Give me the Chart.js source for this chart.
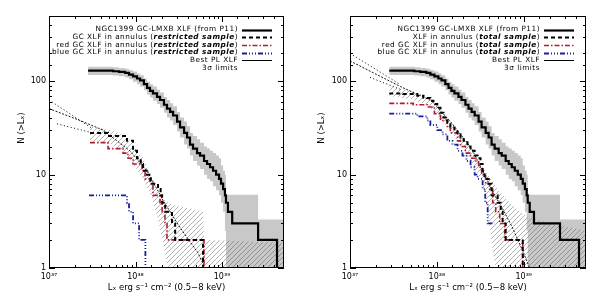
<!DOCTYPE html>
<html>
<head>
<meta charset="utf-8">
<script src="https://cdn.jsdelivr.net/npm/chart.js@4.4.1/dist/chart.umd.min.js"></script>
<style>
  html, body { margin: 0; padding: 0; background: #fff; }
  #wrap { display: flex; width: 600px; height: 300px; }
  canvas { display: block; }
</style>
</head>
<body>
<div id="wrap">
  <canvas id="left" width="300" height="300"></canvas>
  <canvas id="right" width="300" height="300"></canvas>
</div>
<script>
// axis ranges and tick labels
const xMin = 1e37, xMax = 5.2e39;
const yMin = 1, yMax = 500;
const xTickVals = [1e37, 1e38, 1e39];
const xTickText = ['10³⁷', '10³⁸', '10³⁹'];
const yTickVals = [1, 10, 100];
const yTickText = ['1', '10', '100'];

// NGC1399 GC-LMXB XLF (P11), same in both panels
const xlfL = [2.83e37, 5.5e37, 6.44e37, 7.57e37, 8.41e37, 9.36e37, 1.04e38, 1.13e38, 1.25e38, 1.36e38,
              1.47e38, 1.59e38, 1.77e38, 1.92e38, 2.13e38, 2.31e38, 2.51e38, 2.72e38, 3.02e38, 3.27e38,
              3.64e38, 3.94e38, 4.26e38, 4.62e38, 5.14e38, 5.57e38, 6.19e38, 6.71e38, 7.27e38, 7.87e38,
              8.53e38, 9.23e38, 9.73e38, 1.03e39, 1.08e39, 1.11e39, 1.17e39, 1.31e39, 2.61e39, 4.32e39, 5.2e39];
const xlfN = [130, 128, 126, 123, 118, 113, 107, 102, 93, 85,
              79, 74, 68, 63, 56, 51, 47, 43, 37, 32,
              28, 25, 21, 19, 17, 16, 14, 13, 12, 11,
              10, 9, 8, 7, 6, 5, 4, 3, 2, 1, 1];
const xlfBandHi = [143, 141, 139, 136, 131, 127, 121, 116, 107, 99,
                   93, 88, 81, 76, 68, 63, 58, 54, 47, 41,
                   37, 33, 28, 26, 24, 22, 20, 19, 18, 17,
                   16, 15, 12.5, 11, 10, 6.1, 6.1, 6.1, 3.3, 3.3, 3.3];
const xlfBandLo = [117, 115, 113, 110, 105, 99, 93, 88, 80, 72,
                   67, 62, 57, 52, 46, 41, 38, 34, 29, 25,
                   21, 19, 16, 14, 12.5, 11.5, 10, 9, 8.5, 7.5,
                   6.8, 6, 5, 4, 2.5, 0.5, 0.5, 0.5, 0.5, 0.5, 0.5];

// left panel: restricted sample
const annRestr = [[2.98e37, 28], [4.81e37, 26], [7.97e37, 23], [9.36e37, 18], [1.04e38, 15], [1.15e38, 13],
                  [1.22e38, 11], [1.36e38, 10], [1.5e38, 8], [1.82e38, 7], [1.95e38, 6], [2.03e38, 5],
                  [2.2e38, 4], [2.64e38, 3], [2.87e38, 2], [6.03e38, 1], [5.2e39, 1]];
const redRestr = [[2.98e37, 22], [4.81e37, 19], [7.17e37, 17], [8.18e37, 15], [9.36e37, 13], [1.19e38, 11],
                  [1.29e38, 9], [1.47e38, 8], [1.59e38, 6], [1.92e38, 5], [2.03e38, 4], [2.19e38, 3],
                  [2.31e38, 2], [6.19e38, 1]];
const blueRestr = [[2.9e37, 6], [7.97e37, 5], [8.41e37, 4], [9.36e37, 3], [1.1e38, 2], [1.3e38, 1]];
const bestRestr = [[1e37, 51], [2.28e37, 38], [4.21e37, 30], [8.6e37, 18], [1.36e38, 11], [2.08e38, 5.3],
                   [3.27e38, 2.7], [5.28e38, 1.45], [6.35e38, 1.0]];
const upExtRestr = [[1e37, 63], [3.2e37, 31]];
const loExtRestr = [[1.24e37, 35], [3.2e37, 28]];
const hatchLRestr = [2.98e37, 5e37, 7.2e37, 9.4e37, 1.22e38, 1.5e38, 1.8e38, 2.1e38, 2.4e38, 3e38, 4.5e38, 6.0e38, 6.2e38, 1.5e39, 5.2e39];
const hatchHiRestr = [33, 30, 27, 21, 15, 10, 6.5, 5.5, 5, 4.6, 4.3, 4.0, 2.0, 1.95, 1.85];
const hatchLoRestr = [23, 21.5, 18, 13, 9, 6, 3.5, 1.8, 0.9, 0.5, 0.5, 0.5, 0.5, 0.5, 0.5];

// right panel: total sample
const annTotal = [[2.83e37, 74], [4.1e37, 73], [5.95e37, 70], [7.0e37, 66], [8.41e37, 62], [9.12e37, 57],
                  [1.01e38, 52], [1.10e38, 46], [1.19e38, 41], [1.32e38, 36], [1.43e38, 32], [1.59e38, 29],
                  [1.73e38, 27], [1.87e38, 25], [2.03e38, 23], [2.25e38, 20], [2.44e38, 18], [2.72e38, 16],
                  [2.94e38, 15], [3.18e38, 13], [3.36e38, 11], [3.54e38, 9], [3.94e38, 8], [4.26e38, 6],
                  [5.0e38, 5], [5.42e38, 4], [5.71e38, 3], [6.19e38, 2], [9.73e38, 1], [5.2e39, 1]];
const redTotal = [[2.83e37, 58], [5.35e37, 56], [7.76e37, 53], [9.36e37, 45], [1.10e38, 38], [1.32e38, 32],
                  [1.43e38, 28], [1.73e38, 23], [1.87e38, 20], [2.13e38, 17], [2.44e38, 15], [2.79e38, 14],
                  [3.02e38, 12], [3.27e38, 10], [3.64e38, 8], [4.05e38, 7], [4.39e38, 5], [4.75e38, 4],
                  [5.28e38, 3], [6.03e38, 2], [9.73e38, 1]];
const blueTotal = [[2.83e37, 45], [5.95e37, 42], [7.76e37, 38], [8.41e37, 34], [1.01e38, 30], [1.16e38, 27],
                   [1.32e38, 23], [1.51e38, 21], [1.73e38, 18], [1.97e38, 16], [2.19e38, 14], [2.44e38, 12],
                   [2.72e38, 10], [2.94e38, 9], [3.36e38, 7], [3.6e38, 5], [3.84e38, 3], [4.62e38, 3]];
const bestTotal = [[1e37, 165], [3.78e37, 88], [8.6e37, 62], [1.47e38, 36], [2.51e38, 19], [3.84e38, 8.5],
                   [4.62e38, 6], [5.57e38, 4.5], [7.27e38, 2.8], [9.5e38, 1.6], [1.17e39, 1.0]];
const upExtTotal = [[1e37, 199], [3.8e37, 92]];
const loExtTotal = [[1.7e37, 110], [3.8e37, 82]];
const hatchLTotal = [2.83e37, 5e37, 8e37, 1.1e38, 1.5e38, 2e38, 2.6e38, 3.2e38, 3.6e38, 4e38, 4.4e38, 5e38, 6.5e38, 9e38, 1.1e39, 2e39, 5.2e39];
const hatchHiTotal = [88, 80, 68, 50, 35, 25, 18, 13, 11, 9.5, 8.5, 7, 5.3, 4, 3.5, 3, 2.5];
const hatchLoTotal = [70, 64, 55, 40, 28, 19, 13, 9, 6, 3, 1.5, 0.8, 0.5, 0.5, 0.5, 0.5, 0.5];

const STYLE = {
    xlf:  { color: '#000', width: 2.2, dash: [] },
    ann:  { color: '#000', width: 2, dash: [4, 3] },
    red:  { color: '#b01c30', width: 1.6, dash: [5, 2, 1.5, 2] },
    blue: { color: '#14209a', width: 1.8, dash: [5, 2, 1, 2, 1, 2, 1, 2] },
    best: { color: '#000', width: 1, dash: [] },
};
const FONT = 'DejaVu Sans';

const pairs = arr => arr.map(([x, y]) => ({ x, y }));
const zip = (xs, ys) => xs.map((x, i) => ({ x, y: ys[i] }));
const isDecade = v => Math.abs(Math.log10(v) - Math.round(Math.log10(v))) < 1e-6;

function hatchPattern() {
    const c = document.createElement('canvas');
    c.width = 5; c.height = 5;
    const g = c.getContext('2d');
    g.strokeStyle = 'rgba(80,80,80,0.75)';
    g.lineWidth = 0.6;
    g.beginPath();
    g.moveTo(0, 5); g.lineTo(5, 0);
    g.moveTo(-1, 1); g.lineTo(1, -1);
    g.moveTo(4, 6); g.lineTo(6, 4);
    g.stroke();
    return g.createPattern(c, 'repeat');
}

function line(data, st, extra) {
    return Object.assign({
        data: data, borderColor: st.color, borderWidth: st.width, borderDash: st.dash,
        pointRadius: 0, fill: false, tension: 0, order: 2
    }, extra);
}

// frame, inward ticks, axis titles
const frame = {
    id: 'frame',
    afterDatasetsDraw(chart) {
        const { ctx, chartArea: a, scales: { x, y } } = chart;
        ctx.save();
        ctx.strokeStyle = '#000';
        ctx.lineWidth = 1;
        ctx.strokeRect(a.left + 0.5, a.top + 0.5, a.width - 1, a.height - 1);
        ctx.beginPath();
        x.ticks.forEach(t => {
            if (t.value >= x.max) return;
            const p = Math.round(x.getPixelForValue(t.value)) + 0.5;
            const len = isDecade(t.value) ? 6 : 3;
            ctx.moveTo(p, a.bottom); ctx.lineTo(p, a.bottom - len);
            ctx.moveTo(p, a.top); ctx.lineTo(p, a.top + len);
        });
        y.ticks.forEach(t => {
            if (t.value >= y.max) return;
            const p = Math.round(y.getPixelForValue(t.value)) + 0.5;
            const len = isDecade(t.value) ? 6 : 3;
            ctx.moveTo(a.left, p); ctx.lineTo(a.left + len, p);
            ctx.moveTo(a.right, p); ctx.lineTo(a.right - len, p);
        });
        ctx.stroke();

        ctx.fillStyle = '#000';
        ctx.font = '8.5px ' + FONT;
        ctx.textAlign = 'center';
        ctx.textBaseline = 'middle';
        ctx.fillText('Lₓ erg s⁻¹ cm⁻² (0.5−8 keV)', (a.left + a.right) / 2, 288);
        ctx.translate(22, 128);
        ctx.rotate(-Math.PI / 2);
        ctx.fillText('N (>Lₓ)', 0, 0);
        ctx.restore();
    }
};

// legend in the top right corner: text right aligned, line sample on the right
const cornerLegend = {
    id: 'cornerLegend',
    afterDatasetsDraw(chart, args, opts) {
        const { ctx, chartArea: a } = chart;
        ctx.save();
        ctx.textBaseline = 'middle';
        ctx.fillStyle = '#000';
        ctx.letterSpacing = '0.5px';
        opts.rows.forEach((row, i) => {
            const y = a.top + 13.5 + i * 7.7;
            const fontOf = it => (it ? 'italic bold ' : '') + '7.3px ' + FONT;
            let w = 0;
            row.text.forEach(([s, it]) => { ctx.font = fontOf(it); w += ctx.measureText(s).width; });
            let x = a.right - 46 - w;
            row.text.forEach(([s, it]) => {
                ctx.font = fontOf(it);
                ctx.fillText(s, x, y);
                x += ctx.measureText(s).width;
            });
            if (row.st) {
                ctx.strokeStyle = row.st.color;
                ctx.lineWidth = row.st.width;
                ctx.setLineDash(row.st.dash);
                ctx.beginPath();
                ctx.moveTo(a.right - 42, Math.round(y) + 0.5);
                ctx.lineTo(a.right - 12, Math.round(y) + 0.5);
                ctx.stroke();
            }
        });
        ctx.restore();
    }
};

function makePanel(id, p) {
    const hatch = hatchPattern();
    // 'before': hold the value until the next point, then drop
    const datasets = [
        line(zip(xlfL, xlfN), STYLE.xlf, { stepped: 'before', order: 1 }),
        line(pairs(p.ann), STYLE.ann, { stepped: 'before', order: 2 }),
        line(pairs(p.red), STYLE.red, { stepped: 'before', order: 3 }),
        line(pairs(p.blue), STYLE.blue, { stepped: 'before', order: 4 }),
        line(pairs(p.best), STYLE.best, { borderWidth: 0.9, borderDash: [2, 1.5], order: 5 }),
        line(pairs(p.upExt), STYLE.best, { borderDash: [1, 2.5], order: 5 }),
        line(pairs(p.loExt), STYLE.best, { borderDash: [1, 2.5], order: 5 }),
        line(zip(p.hatchL, p.hatchHi), STYLE.best, { borderWidth: 0, fill: '+1', backgroundColor: hatch, order: 8 }),
        line(zip(p.hatchL, p.hatchLo), STYLE.best, { borderWidth: 0, order: 8 }),
        line(zip(xlfL, xlfBandHi), STYLE.best, { borderWidth: 0, stepped: 'before', fill: '+1', backgroundColor: '#c8c8c8', order: 9 }),
        line(zip(xlfL, xlfBandLo), STYLE.best, { borderWidth: 0, stepped: 'before', order: 9 }),
    ];
    const tickFont = { family: FONT, size: 8 };
    return new Chart(document.getElementById(id), {
        type: 'line',
        data: { datasets },
        options: {
            responsive: false,
            animation: false,
            events: [],
            layout: { padding: { top: 16, right: p.padRight, left: 0, bottom: 0 } },
            plugins: {
                legend: { display: false },
                tooltip: { enabled: false },
                cornerLegend: { rows: p.rows },
            },
            scales: {
                x: {
                    type: 'logarithmic', min: xMin, max: xMax,
                    grid: { display: false, drawTicks: false },
                    border: { display: false },
                    afterFit: s => { s.height = 32; },
                    ticks: {
                        autoSkip: false, maxRotation: 0, padding: 4, color: '#000', font: tickFont,
                        callback: v => { const i = xTickVals.findIndex(t => Math.abs(t / v - 1) < 1e-6); return i >= 0 ? xTickText[i] : ''; }
                    }
                },
                y: {
                    type: 'logarithmic', min: yMin, max: yMax,
                    grid: { display: false, drawTicks: false },
                    border: { display: false },
                    afterFit: s => { s.width = p.axisW; },
                    ticks: {
                        autoSkip: false, padding: 3, color: '#000', font: tickFont,
                        callback: v => { const i = yTickVals.findIndex(t => Math.abs(t / v - 1) < 1e-6); return i >= 0 ? yTickText[i] : ''; }
                    }
                }
            }
        },
        plugins: [frame, cornerLegend]
    });
}

const rowsRestr = [
    { text: [['NGC1399 GC-LMXB XLF (from P11)', false]], st: STYLE.xlf },
    { text: [['GC XLF in annulus (', false], ['restricted sample', true], [')', false]], st: STYLE.ann },
    { text: [['red GC XLF in annulus (', false], ['restricted sample', true], [')', false]], st: STYLE.red },
    { text: [['blue GC XLF in annulus (', false], ['restricted sample', true], [')', false]], st: STYLE.blue },
    { text: [['Best PL XLF', false]], st: STYLE.best },
    { text: [['3σ limits', false]] },
];
const rowsTotal = [
    { text: [['NGC1399 GC-LMXB XLF (from P11)', false]], st: STYLE.xlf },
    { text: [['XLF in annulus (', false], ['total sample', true], [')', false]], st: STYLE.ann },
    { text: [['red GC XLF in annulus (', false], ['total sample', true], [')', false]], st: STYLE.red },
    { text: [['blue GC XLF in annulus (', false], ['total sample', true], [')', false]], st: STYLE.blue },
    { text: [['Best PL XLF', false]], st: STYLE.best },
    { text: [['3σ limits', false]] },
];

makePanel('left', {
    ann: annRestr, red: redRestr, blue: blueRestr, best: bestRestr,
    upExt: upExtRestr, loExt: loExtRestr,
    hatchL: hatchLRestr, hatchHi: hatchHiRestr, hatchLo: hatchLoRestr,
    rows: rowsRestr, axisW: 49, padRight: 16
});
makePanel('right', {
    ann: annTotal, red: redTotal, blue: blueTotal, best: bestTotal,
    upExt: upExtTotal, loExt: loExtTotal,
    hatchL: hatchLTotal, hatchHi: hatchHiTotal, hatchLo: hatchLoTotal,
    rows: rowsTotal, axisW: 50, padRight: 14
});
</script>
</body>
</html>
